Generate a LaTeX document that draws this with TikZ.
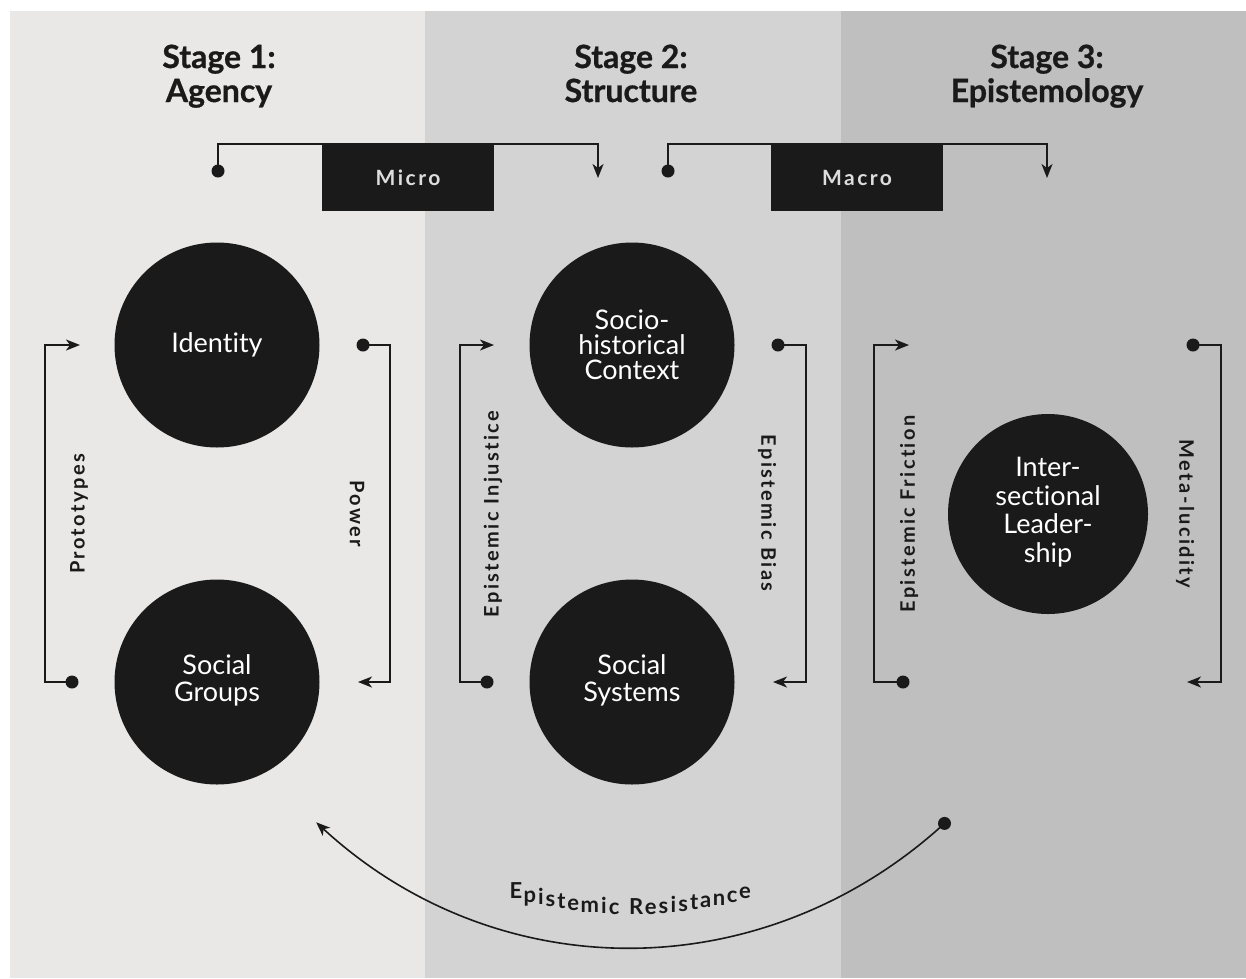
\documentclass[tikz,border=0pt]{standalone}
\usepackage{fontspec}
\setmainfont{Lato}[Ligatures=NoCommon]
\newfontfamily\tagfont{Lato}[LetterSpace=12,Ligatures=NoCommon]
\newfontfamily\headfont{Lato}[Ligatures=NoCommon,BoldFeatures={FakeBold=0.8}]
\usetikzlibrary{arrows.meta,decorations.text}

\definecolor{ink}{HTML}{1A1A1A}
\definecolor{paneA}{HTML}{E9E8E7}
\definecolor{paneB}{HTML}{D4D3D3}
\definecolor{paneC}{HTML}{BFBFBF}
\definecolor{boxtext}{HTML}{DDDDDD}

% lines of a circle text, lifted a little
\newcommand{\liftlines}[2]{\raisebox{#1}{\begin{tabular}{@{}c@{}}#2\end{tabular}}}

\begin{document}
\begin{tikzpicture}[x=1pt,y=-1pt,
  linkline/.style={draw=ink,line width=1.6pt,-{Stealth[length=14pt,width=11pt,inset=4pt]}},
  enddot/.style={circle,fill=ink,inner sep=0pt,minimum size=13pt},
  blob/.style={circle,fill=ink,inner sep=0pt,minimum size=205pt,text=white,align=center,font=\fontsize{27}{25}\selectfont},
  stagehead/.style={align=center,anchor=base,text=ink,font=\headfont\fontsize{32}{34}\selectfont\bfseries},
  flowtag/.style={text=ink,font=\tagfont\fontsize{20}{22}\selectfont\bfseries},
  scalebox/.style={fill=ink,inner sep=0pt,minimum width=172pt,minimum height=67pt,text=boxtext,font=\tagfont\fontsize{21}{22}\selectfont\bfseries}]

\useasboundingbox (0,0) rectangle (1246,978);

% three stage panels
\fill[paneA] (10,11) rectangle (425,978);
\fill[paneB] (425,11) rectangle (841,978);
\fill[paneC] (841,11) rectangle (1246,978);

\node[stagehead] (head1) at (219,102) {Stage 1:\\Agency};
\node[stagehead] (head2) at (631,102) {Stage 2:\\Structure};
\node[stagehead] (head3) at (1047,102) {Stage 3:\\Epistemology};

% micro and macro
\node[scalebox] (micro) at (408,177.5) {Micro};
\node[enddot] (mi1) at (218,171) {};
\coordinate (mi2) at (598,178);
\draw[linkline] (mi1.center) |- (micro.north) -| (mi2);

\node[scalebox] (macro) at (857,177.5) {Macro};
\node[enddot] (ma1) at (668,171) {};
\coordinate (ma2) at (1047,178);
\draw[linkline] (ma1.center) |- (macro.north) -| (ma2);

% circles
\node[blob] (identity) at (217,345) {Identity};
\node[blob] (groups) at (217,682) {\liftlines{5pt}{Social\\Groups}};
\node[blob] (context) at (632,345) {Socio-\\historical\\Context};
\node[blob] (systems) at (632,682) {\liftlines{5pt}{Social\\Systems}};
\node[blob,minimum size=200pt,font=\fontsize{27}{28.5}\selectfont] (leadership) at (1048,514)
  {\liftlines{6pt}{Inter-\\sectional\\Leader-\\ship}};

% stage 1
\node[enddot] (pr1) at (72,682) {};
\coordinate (pr2) at (80,345);
\draw[linkline] (pr1.center) -- ++(-27,0) |- (pr2);
\node[flowtag,rotate=90] at (79,514) {Prototypes};

\node[enddot] (po1) at (363,345) {};
\coordinate (po2) at (358,682);
\draw[linkline] (po1.center) -- ++(27,0) |- (po2);
\node[flowtag,rotate=-90] at (357,514) {Power};

% stage 2
\node[enddot] (in1) at (487,682) {};
\coordinate (in2) at (494,345);
\draw[linkline] (in1.center) -- ++(-27,0) |- (in2);
\node[flowtag,rotate=90] at (493,514) {Epistemic Injustice};

\node[enddot] (bi1) at (778,345) {};
\coordinate (bi2) at (773,682);
\draw[linkline] (bi1.center) -- ++(28,0) |- (bi2);
\node[flowtag,rotate=-90] at (767,513) {Epistemic Bias};

% stage 3
\node[enddot] (fr1) at (903,682) {};
\coordinate (fr2) at (909,345);
\draw[linkline] (fr1.center) -- ++(-29,0) |- (fr2);
\node[flowtag,rotate=90] at (909,514) {Epistemic Friction};

\node[enddot] (ml1) at (1193,345) {};
\coordinate (ml2) at (1187,682);
\draw[linkline] (ml1.center) -- ++(28,0) |- (ml2);
\node[flowtag,rotate=-90] at (1185,514) {Meta-lucidity};

% resistance arc
\node[enddot] (er1) at (944.5,823.4) {};
\coordinate (er2) at (316.2,822.3);
\draw[linkline] (er1.center) to[bend left=42.5] (er2);
\path[font=\bfseries\fontsize{22}{24}\selectfont,text=ink,
  decorate,decoration={text effects along path,text={Epistemic Resistance},text align=center,raise=33pt,
  text effects/.cd,characters={anchor=base},character widths={inner xsep=1.5pt}}]
  (er2) to[bend right=42.5] (er1.center);

\end{tikzpicture}
\end{document}
